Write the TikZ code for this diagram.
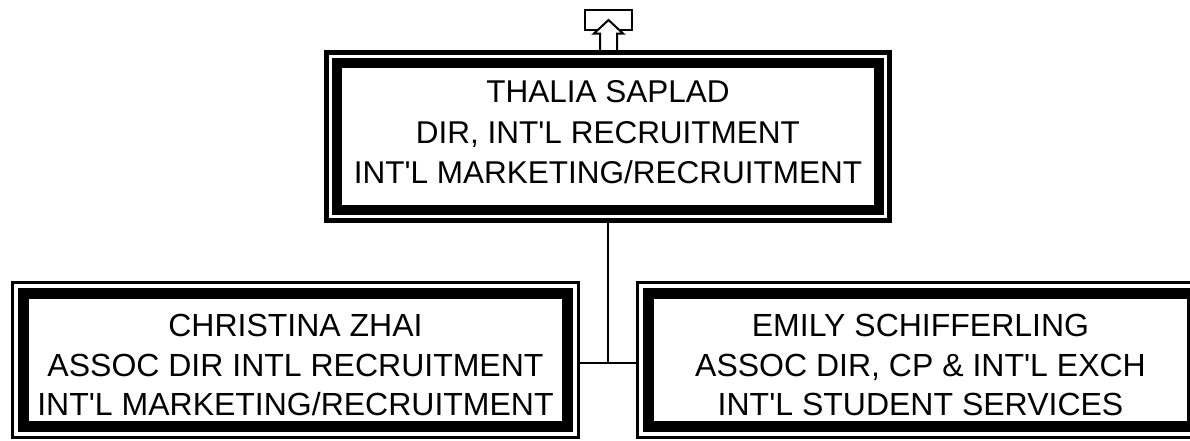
\documentclass[tikz,border=0pt]{standalone}
\usepackage{fontspec}
\setmainfont{Liberation Sans}
\usetikzlibrary{fit,calc}
\newcommand{\ap}{\textquotesingle}
\newcommand{\upstrut}{\rule{0pt}{32.5pt}}
\begin{document}
\begin{tikzpicture}[x=1pt,y=-1pt,
  innerbox/.style={draw=black, fill=white, outer sep=0pt, inner sep=0pt, align=center},
  topinner/.style={innerbox, line width=10pt, text depth=9pt,
    font=\fontsize{31.5}{40.5}\selectfont},
  botinner/.style={innerbox, line width=11pt,
    font=\fontsize{32}{39.5}\selectfont},
  outerbox/.style={draw=black, inner sep=#1, outer sep=0pt},
  link/.style={draw=black, line width=2pt},
  icon/.style={draw=black, fill=white, line width=2pt, line join=miter},
]
\useasboundingbox (0,0) rectangle (1190,440);
\clip (0,0) rectangle (1190,440);

% top box
\node[topinner, minimum width=542pt, minimum height=147pt] (top) at (608,136.5)
  {THALIA SAPLAD\\DIR, INT\ap L RECRUITMENT\\INT\ap L MARKETING/RECRUITMENT};
\node[outerbox=10.5pt, line width=5pt, fit=(top)] (topO) {};

% bottom boxes
\node[botinner, minimum width=544pt, minimum height=133pt] (left) at (295.5,360)
  {\upstrut CHRISTINA ZHAI\\ASSOC DIR INTL RECRUITMENT\\INT\ap L MARKETING/RECRUITMENT};
\node[outerbox=11pt, line width=3pt, fit=(left)] (leftO) {};

\node[botinner, minimum width=544pt, minimum height=133pt] (right) at (920.5,360)
  {\upstrut EMILY SCHIFFERLING\\ASSOC DIR, CP \& INT\ap L EXCH\\INT\ap L STUDENT SERVICES};
\node[outerbox=11pt, line width=3pt, fit=(right)] (rightO) {};

% connectors
\coordinate (j) at ($(leftO.east)+(0,3)$);
\draw[link] (topO.south) -- (topO.south |- j);
\draw[link] (j) -- (j -| rightO.west);

% top icon
\draw[icon, fill=none] (585,10.3) rectangle (632,29.7);
\filldraw[icon] (608.5,20) -- (623,33.5) -- (617,33.5) -- (617,51) -- (600,51)
  -- (600,33.5) -- (594,33.5) -- cycle;
\end{tikzpicture}
\end{document}
